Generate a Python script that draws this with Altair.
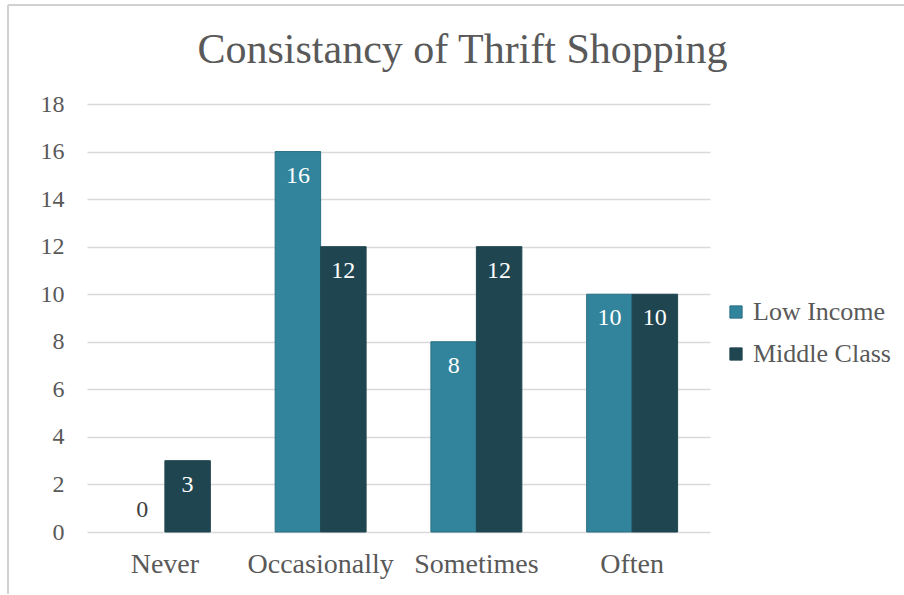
import altair as alt
import pandas as pd

categories = ["Never", "Occasionally", "Sometimes", "Often"]
low_income = [0, 16, 8, 10]
middle_class = [3, 12, 12, 10]
series = ["Low Income", "Middle Class"]
y_ticks = [0, 2, 4, 6, 8, 10, 12, 14, 16, 18]

rows = []
for c, a, b in zip(categories, low_income, middle_class):
    rows.append({"category": c, "series": series[0], "value": a})
    rows.append({"category": c, "series": series[1], "value": b})
df = pd.DataFrame(rows)

FONT = "'Liberation Serif', 'Times New Roman', Times, serif"
GRAY = "#595959"
colors = ["#31849B", "#1F4650"]

x = alt.X("category:N", sort=categories, title=None,
          scale=alt.Scale(paddingInner=0.416, paddingOuter=0.208),
          axis=alt.Axis(labelFont=FONT, labelFontSize=28, labelColor=GRAY,
                        labelAngle=0, ticks=False, domain=False, labelPadding=18))
xo = alt.XOffset("series:N", sort=series, scale=alt.Scale(paddingInner=0, paddingOuter=0))
y = alt.Y("value:Q", title=None,
          scale=alt.Scale(domain=[0, 18], nice=False),
          axis=alt.Axis(values=y_ticks, labelFont=FONT, labelFontSize=24, labelColor=GRAY,
                        ticks=False, domain=False, gridColor="#D9D9D9", gridWidth=1.5,
                        labelPadding=23))

base = alt.Chart(df)

bars = base.mark_bar(strokeWidth=1).encode(
    x=x, xOffset=xo, y=y,
    color=alt.Color("series:N", sort=series,
                    scale=alt.Scale(domain=series, range=colors),
                    legend=alt.Legend(title=None, orient="none", legendX=636, legendY=195,
                                      labelFont=FONT, labelFontSize=26, labelColor=GRAY,
                                      symbolType="square", symbolSize=150,
                                      symbolStrokeWidth=1, rowPadding=16, labelOffset=4)),
    stroke=alt.Color("series:N", sort=series,
                     scale=alt.Scale(domain=series, range=["#2A7085", "#1F4650"]),
                     legend=None),
    strokeOpacity=alt.condition("datum.value == 0", alt.value(0), alt.value(1)),
)

labels_in = base.transform_filter("datum.value > 0").mark_text(
    font=FONT, fontSize=24, color="white", baseline="top", dy=12
).encode(x=x, xOffset=xo, y=y, text=alt.Text("value:Q"))

labels_zero = base.transform_filter("datum.value == 0").mark_text(
    font=FONT, fontSize=24, color="#404040", baseline="bottom", dy=-10
).encode(x=x, xOffset=xo, y=y, text=alt.Text("value:Q"))

frame_left = alt.Chart(df).mark_rule(color="#D0D0D0", strokeWidth=1.5).encode(
    x=alt.value(-79), y=alt.value(-99), y2=alt.value(490))
frame_top = alt.Chart(df).mark_rule(color="#D0D0D0", strokeWidth=1.5).encode(
    x=alt.value(-79), x2=alt.value(817), y=alt.value(-99))

chart = alt.layer(bars, labels_in, labels_zero, frame_left, frame_top).properties(
    width=623, height=428,
    padding={"left": 87, "top": 104, "right": 194, "bottom": 63},
    autosize=alt.AutoSizeParams(type="none"),
    title=alt.TitleParams("Consistancy of Thrift Shopping", font=FONT, fontSize=42,
                          color=GRAY, fontWeight="normal", anchor="middle", dx=64,
                          offset=-68, frame="group"),
).configure(background="white").configure_view(strokeWidth=0, stroke="transparent")

chart.save("out.html", embed_options={"renderer": "svg", "actions": False})
